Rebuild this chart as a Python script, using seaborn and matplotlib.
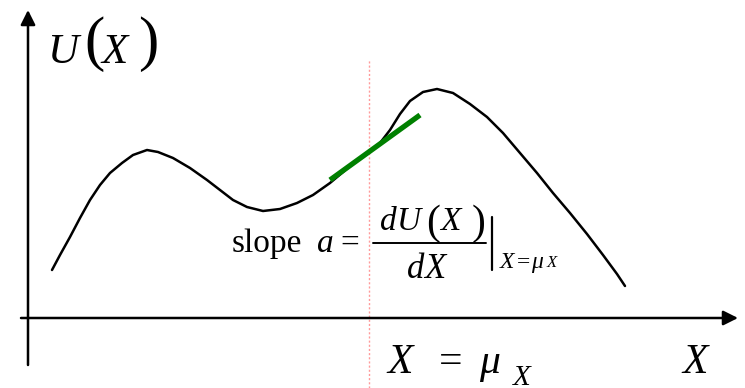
import numpy as np
import pandas as pd
import seaborn as sns
import matplotlib.pyplot as plt

# curve U(X) (x to the right of the U axis, u above the X axis)
curve_x = [24, 32, 42, 52, 62, 72, 82, 94, 105, 119, 130, 145, 162, 179, 192,
           205, 219, 235, 252, 269, 285, 302, 327, 352, 362, 372, 382, 395,
           409, 425, 442, 459, 475, 492, 509, 525, 542, 559, 575, 589, 597]
curve_u = [48, 63, 81, 100, 118, 133, 145, 155, 163, 168, 166, 160, 150, 138, 128,
           118, 111, 107, 109, 115, 123, 135, 156, 175, 188, 204, 217, 226,
           229, 225, 214, 201, 185, 165, 145, 125, 105, 84, 63, 44, 32]

# tangent at X = mu_X
tangent_x = [302, 392]
tangent_u = [138, 203]
mu_x = 341

sns.set_style('white')
plt.rcParams['font.family'] = ['Liberation Serif', 'DejaVu Serif']
plt.rcParams['text.color'] = 'black'

fig = plt.figure(figsize=(7.45, 3.88), dpi=100)
ax = fig.add_axes([0, 0, 1, 1])
ax.set_xlim(-28, 717)
ax.set_ylim(-70, 318)
ax.axis('off')

df = pd.DataFrame({'x': curve_x, 'u': curve_u})
sns.lineplot(data=df, x='x', y='u', color='black', lw=1.8, sort=False, ax=ax,
             solid_joinstyle='round')

# dotted red guide at mu_X
ax.plot([mu_x, mu_x], [-70, 258], color='#ff9a9a', lw=1.0, ls=(0, (1.5, 1.5)))

# green tangent
ax.plot(tangent_x, tangent_u, color='#008000', lw=3.8, solid_capstyle='butt')

# axes with arrows
arrow = dict(arrowstyle='-|>', color='black', lw=1.8, mutation_scale=22, shrinkA=0, shrinkB=0)
ax.annotate('', xy=(0, 308), xytext=(0, -47), arrowprops=arrow)
ax.annotate('', xy=(710, 0), xytext=(-7, 0), arrowprops=arrow)


def put(x, u, s, size, style='normal'):
    ax.text(x, u, s, fontsize=size, fontstyle=style, va='baseline', ha='left')


# U(X)
put(19, 255, 'U', 31, 'italic')
put(56, 259, '(', 44)
put(73, 255, 'X', 31, 'italic')
put(110, 259, ')', 44)

# slope a = dU(X)/dX | X = mu_X
put(204, 66, 'slope', 24)
put(289, 66, 'a', 24, 'italic')
put(312, 66, '=', 24)
put(352, 88, 'd', 24, 'italic')
put(369, 88, 'U', 24, 'italic')
put(398, 84, '(', 30)
put(412, 88, 'X', 24, 'italic')
put(444, 84, ')', 30)
ax.plot([345, 458], [75, 75], color='black', lw=1.4)
put(379, 40, 'd', 25, 'italic')
put(396, 40, 'X', 25, 'italic')
ax.plot([464, 464], [48, 101], color='black', lw=1.6)
put(472, 50, 'X', 17, 'italic')
put(489, 50, '=', 17)
put(503, 50, 'μ', 17, 'italic')
put(519, 51, 'X', 12, 'italic')

# X = mu_X and X below the axis
put(359, -55, 'X', 30, 'italic')
put(411, -55, '=', 30)
put(451, -55, 'μ', 30, 'italic')
put(485, -67, 'X', 21, 'italic')
put(654, -55, 'X', 30, 'italic')

plt.savefig('out.png', dpi=100)
